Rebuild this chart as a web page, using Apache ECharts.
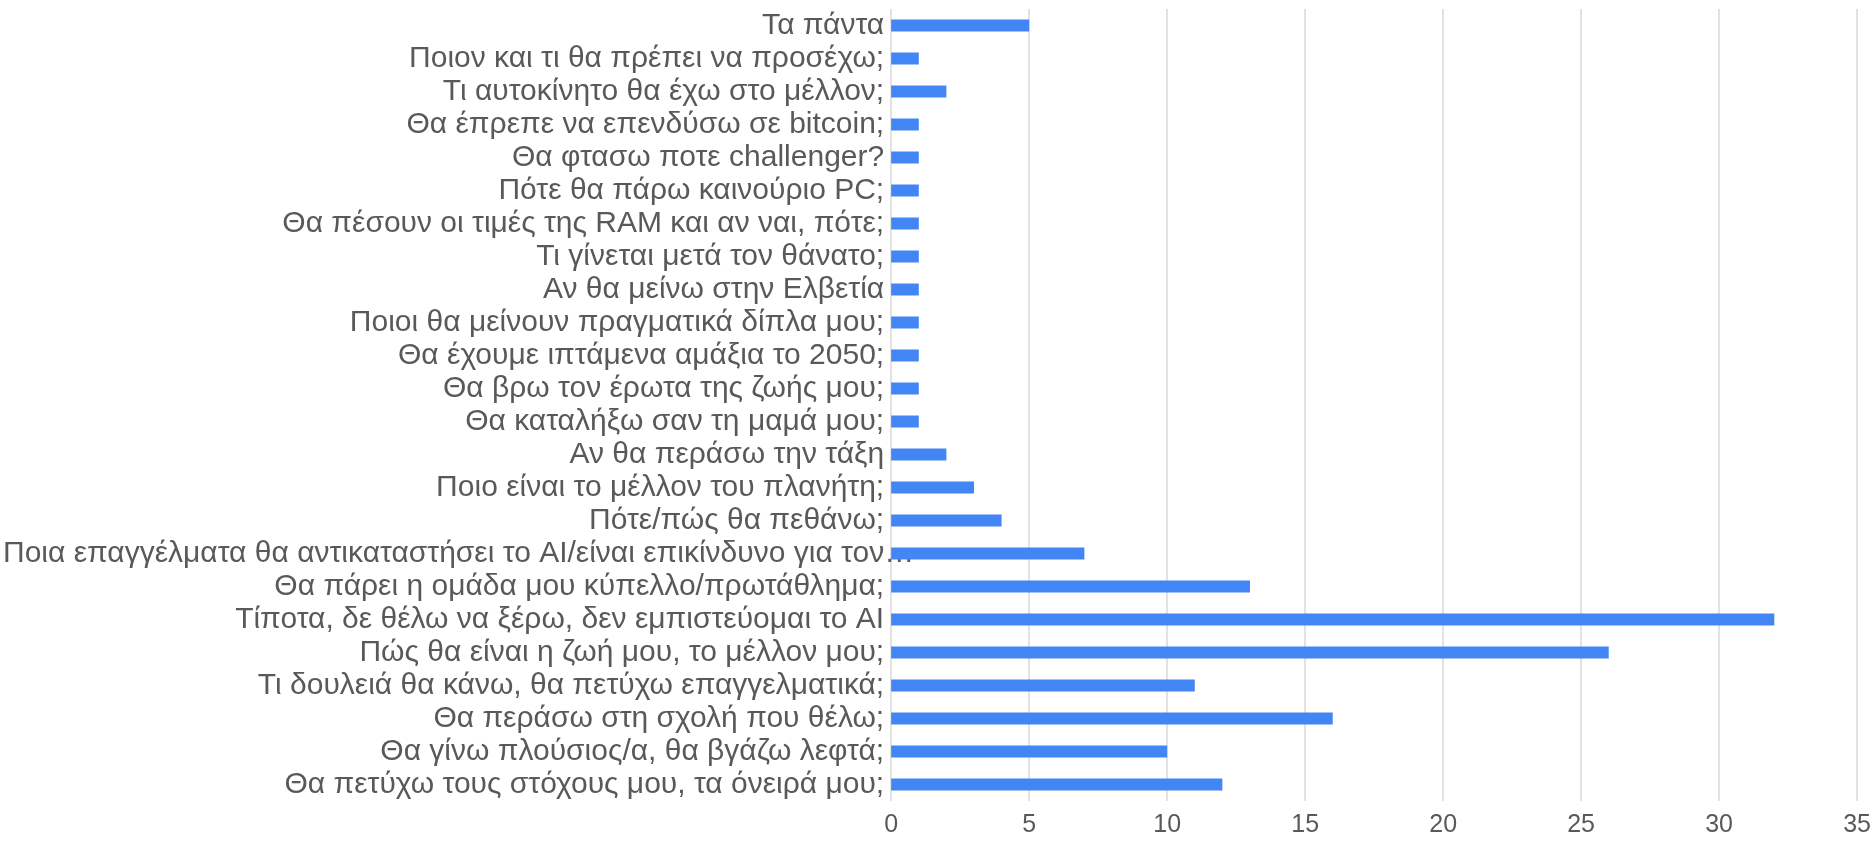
<!DOCTYPE html>
<html>
<head>
<meta charset="utf-8">
<script src="https://cdn.jsdelivr.net/npm/echarts@6/dist/echarts.min.js"></script>
<style>
  html, body { margin: 0; padding: 0; background: #fff; }
  #chart { width: 1874px; height: 844px; }
</style>
</head>
<body>
<div id="chart"></div>
<script>
// categories listed top to bottom, as in the picture
const questions = [
  "Τα πάντα",
  "Ποιον και τι θα πρέπει να προσέχω;",
  "Τι αυτοκίνητο θα έχω στο μέλλον;",
  "Θα έπρεπε να επενδύσω σε bitcoin;",
  "Θα φτασω ποτε challenger?",
  "Πότε θα πάρω καινούριο PC;",
  "Θα πέσουν οι τιμές της RAM και αν ναι, πότε;",
  "Τι γίνεται μετά τον θάνατο;",
  "Αν θα μείνω στην Ελβετία",
  "Ποιοι θα μείνουν πραγματικά δίπλα μου;",
  "Θα έχουμε ιπτάμενα αμάξια το 2050;",
  "Θα βρω τον έρωτα της ζωής μου;",
  "Θα καταλήξω σαν τη μαμά μου;",
  "Αν θα περάσω την τάξη",
  "Ποιο είναι το μέλλον του πλανήτη;",
  "Πότε/πώς θα πεθάνω;",
  "Ποια επαγγέλματα θα αντικαταστήσει το AI/είναι επικίνδυνο για τον…",
  "Θα πάρει η ομάδα μου κύπελλο/πρωτάθλημα;",
  "Τίποτα, δε θέλω να ξέρω, δεν εμπιστεύομαι το AI",
  "Πώς θα είναι η ζωή μου, το μέλλον μου;",
  "Τι δουλειά θα κάνω, θα πετύχω επαγγελματικά;",
  "Θα περάσω στη σχολή που θέλω;",
  "Θα γίνω πλούσιος/α, θα βγάζω λεφτά;",
  "Θα πετύχω τους στόχους μου, τα όνειρά μου;"
];
const counts = [5, 1, 2, 1, 1, 1, 1, 1, 1, 1, 1, 1, 1, 2, 3, 4, 7, 13, 32, 26, 11, 16, 10, 12];
const xTicks = [0, 5, 10, 15, 20, 25, 30, 35];

const chart = echarts.init(document.getElementById("chart"));

// echarts draws the first category at the bottom, so flip the lists
const cats = questions.slice().reverse();
const vals = counts.slice().reverse();

const option = {
  animation: false,
  textStyle: { fontFamily: "Liberation Sans, Arial, sans-serif" },
  grid: { left: 888, right: 15, top: 9, bottom: 43 },
  xAxis: {
    type: "value",
    min: xTicks[0],
    max: xTicks[xTicks.length - 1],
    interval: 5,
    axisLine: { show: false },
    axisTick: { show: false },
    axisLabel: { color: "#595959", fontSize: 25, margin: 12 },
    splitLine: { lineStyle: { color: "#d9d9d9", width: 1.5 } }
  },
  yAxis: {
    type: "category",
    data: cats.map(function (c) {
      if (c.endsWith("…")) {
        return { value: c, textStyle: { padding: [0, -30, 0, 0] } };
      }
      return c;
    }),
    axisLine: { show: false },
    axisTick: { show: false },
    axisLabel: { color: "#595959", fontSize: 30, margin: 7, interval: 0 }
  },
  series: [
    {
      type: "bar",
      data: vals,
      barWidth: 12,
      itemStyle: { color: "#4285F4" }
    }
  ]
};

chart.setOption(option);
</script>
</body>
</html>
